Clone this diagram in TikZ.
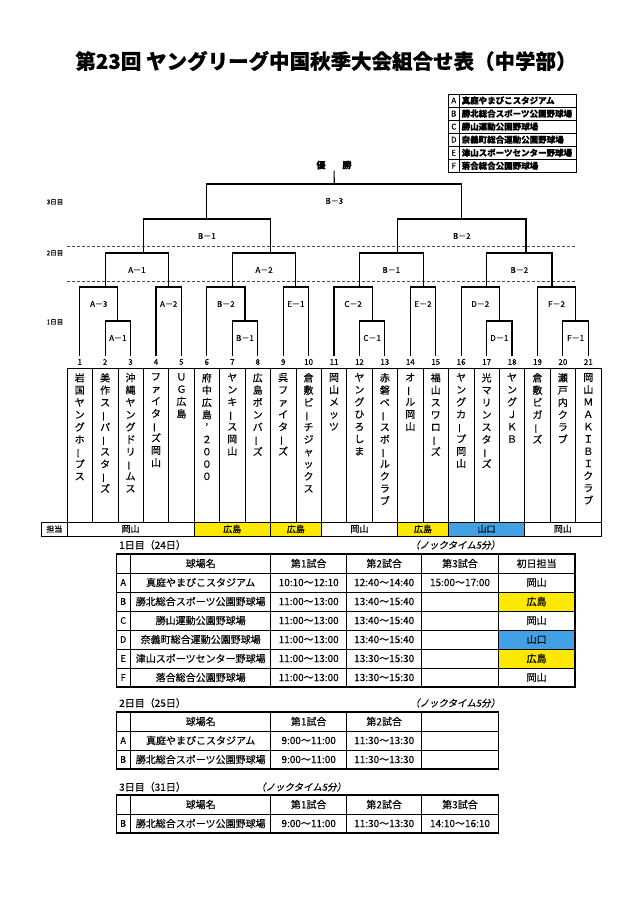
\documentclass[tikz,border=0pt]{standalone}
\usepackage{fontspec}
\usepackage{graphicx}
\setmainfont{Noto Sans CJK JP}[FakeBold=0.35]
\newfontfamily\slantjp{Noto Sans CJK JP}[FakeSlant=0.2, FakeBold=0.35]
\usetikzlibrary{calc}

\definecolor{hiroyel}{RGB}{252,232,0}
\definecolor{yamablue}{RGB}{66,160,228}

% team names stacked one character per line
\def\tateA#1{\ifx#1\relax\else\tateB{#1}\expandafter\tateA\fi}
\def\tateB#1{\hbox to 12pt{\hss\ifx#1ー\rotatebox[origin=c]{90}{ー}\else#1\fi\hss}}
\newcommand\tate[1]{\vtop{\baselineskip=12.3pt\lineskiplimit=-20pt\expandafter\tateA#1\relax}}

\begin{document}
\begin{tikzpicture}[x=1pt,y=-1pt,
    brk/.style={line width=1.1pt},
    dayline/.style={line width=0.8pt, black!70, dash pattern=on 3pt off 2pt},
    tline/.style={line width=0.7pt},
    touter/.style={line width=1.1pt},
    lab/.style={inner sep=0.5pt, font=\fontsize{8}{9}\selectfont},
    num/.style={inner sep=0pt, font=\fontsize{8}{9}\selectfont},
    team/.style={anchor=north, inner sep=0pt, font=\fontsize{10}{12.3}\selectfont},
    tcell/.style={inner sep=0pt, font=\fontsize{10}{11}\selectfont},
    ttl/.style={inner sep=0pt, anchor=west, font=\fontsize{10}{11}\selectfont},
    knock/.style={inner sep=0pt, anchor=west, font=\fontsize{9.5}{11}\slantjp}]
  \useasboundingbox (0,0) rectangle (640,903);

  \node[font=\fontsize{20.5}{23}\selectfont\bfseries] (title) at (326,61)
    {第23回 ヤングリーグ中国秋季大会組合せ表（中学部）};

  % venues
  \draw[tline] (448.3,94) rectangle (576,172.3);
  \draw[tline] (459.3,94) -- (459.3,172.3);
  \foreach \lt/\v [count=\k] in {A/真庭やまびこスタジアム, B/勝北総合スポーツ公園野球場,
      C/勝山運動公園野球場, D/奈義町総合運動公園野球場,
      E/津山スポーツセンター野球場, F/落合総合公園野球場}
  {
    \pgfmathsetmacro\yy{94+(\k-0.5)*13.05}
    \node[inner sep=0pt, font=\fontsize{8}{9}\selectfont] (key\lt) at (453.8,\yy) {\lt};
    \node[inner sep=0pt, anchor=west, font=\fontsize{8.5}{9}\selectfont\bfseries] (venue\lt) at (461.5,\yy) {\v};
    \ifnum\k<6 \draw[tline] (448.3,{94+\k*13.05}) -- (576,{94+\k*13.05}); \fi
  }

  % bracket
  \node[inner sep=1pt, font=\fontsize{9}{10}\selectfont\bfseries] (win) at (334,165) {優\hspace{17pt}勝};
  \node[lab, font=\fontsize{6.5}{7}\selectfont] (day3) at (55,202) {3日目};
  \node[lab, font=\fontsize{6.5}{7}\selectfont] (day2) at (55,253) {2日目};
  \node[lab, font=\fontsize{6.5}{7}\selectfont] (day1) at (55,322) {1日目};
  \draw[dayline] (67,246) -- (575,246);
  \draw[dayline] (67,281) -- (575,281);

  \foreach \i in {1,...,21}
    \coordinate (t\i) at ({67+(\i-0.5)*25.43},356);
  \coordinate (jA1) at (117.9,321);
  \coordinate (jB1) at (245.0,321);
  \coordinate (jC1) at (372.2,321);
  \coordinate (jD1) at (499.4,321);
  \coordinate (jF1) at (575.7,321);
  \coordinate (jA3) at (105.1,287);
  \coordinate (jA2) at (168.7,287);
  \coordinate (jB2) at (232.3,287);
  \coordinate (jE1) at (295.9,287);
  \coordinate (jC2) at (359.5,287);
  \coordinate (jE2) at (423.1,287);
  \coordinate (jD2) at (486.7,287);
  \coordinate (jF2) at (552.0,287);
  \coordinate (qA1) at (143.3,253);
  \coordinate (qA2) at (270.4,253);
  \coordinate (qB1) at (397.6,253);
  \coordinate (qB2) at (526.0,253);
  \coordinate (sB1) at (206.9,219);
  \coordinate (sB2) at (461.8,219);
  \coordinate (fin) at (334.3,184);

  \foreach \l/\j/\r/\txt in {t2/jA1/t3/A－1, t7/jB1/t8/B－1, t12/jC1/t13/C－1,
      t17/jD1/t18/D－1, t20/jF1/t21/F－1,
      t1/jA3/jA1/A－3, t4/jA2/t5/A－2, t6/jB2/jB1/B－2, t9/jE1/t10/E－1,
      t11/jC2/jC1/C－2, t14/jE2/t15/E－2, t16/jD2/jD1/D－2, t19/jF2/jF1/F－2,
      jA3/qA1/jA2/A－1, jB2/qA2/jE1/A－2, jC2/qB1/jE2/B－1, jD2/qB2/jF2/B－2,
      qA1/sB1/qA2/B－1, qB1/sB2/qB2/B－2, sB1/fin/sB2/B－3}
  {
    \draw[brk] (\l) |- (\j) -| (\r);
    \node[lab] (lab-\j) at ($(\l |- \j)!0.5!(\r |- \j) + (0,17)$) {\txt};
  }
  \draw[brk] (fin) -- (win);

  % teams
  \draw[tline] (67,368) rectangle (601,522);
  \foreach \k in {1,...,20}
    \draw[tline] ({67+\k*25.43},368) -- ({67+\k*25.43},522);
  \foreach \nm [count=\i] in {岩国ヤングホープス, 美作スーパースターズ, 沖縄ヤングドリームス,
      ファイターズ岡山, ＵＧ広島, 府中広島’２０００, ヤンキース岡山, 広島ボンバーズ,
      呉ファイターズ, 倉敷ビーチジャックス, 岡山メッツ, ヤングひろしま,
      赤磐ベースボールクラブ, オール岡山, 福山スワローズ, ヤングカープ岡山,
      光マリンスターズ, ヤングＪＫＢ, 倉敷ビガーズ, 瀬戸内クラブ, 岡山ＭＡＫＩＢＩクラブ}
  {
    \node[team] (team\i) at ({67+(\i-0.5)*25.43},373) {\tate{\nm}};
    \node[num] (num\i) at ({67+(\i-0.5)*25.43},362) {\i};
  }

  % duty row
  \draw[tline] (41.7,522) rectangle (67,536);
  \node[inner sep=0pt, font=\fontsize{8}{9}\selectfont] (duty) at (54.3,529) {担当};
  \foreach \a/\b/\col/\txt [count=\k] in {0/5/white/岡山, 5/8/hiroyel/広島, 8/10/hiroyel/広島,
      10/13/white/岡山, 13/15/hiroyel/広島, 15/18/yamablue/山口, 18/21/white/岡山}
  {
    \draw[tline, fill=\col] ({67+\a*25.43},522) rectangle ({67+\b*25.43},536);
    \node[inner sep=0pt, font=\fontsize{9}{10}\selectfont] (duty\k) at ({67+(\a+\b)/2*25.43},529) {\txt};
  }

  % day 1 table
  \node[ttl] (d1ttl) at (119,545) {1日目（24日）};
  \node[knock] (d1knock) at (410,545) {（ノックタイム5分）};
  \fill[hiroyel] (498.3,592) rectangle (575,611);
  \fill[yamablue] (498.3,630) rectangle (575,649);
  \fill[hiroyel] (498.3,649) rectangle (575,668);
  \draw[touter] (116.7,554) rectangle (575,687);
  \foreach \y in {573,592,...,668}
    \draw[tline] (116.7,\y) -- (575,\y);
  \foreach \x in {130.7,270.7,346.7,421.7,498.3}
    \draw[tline] (\x,554) -- (\x,687);
  \foreach \h/\x [count=\k] in {球場名/200.7, 第1試合/308.7, 第2試合/384.2, 第3試合/460, 初日担当/536.6}
    \node[tcell] (h1-\k) at (\x,563.5) {\h};
  \foreach \lt/\v/\p/\q/\s [count=\k] in {A/真庭やまびこスタジアム/10:10～12:10/12:40～14:40/岡山,
      B/勝北総合スポーツ公園野球場/11:00～13:00/13:40～15:40/広島,
      C/勝山運動公園野球場/11:00～13:00/13:40～15:40/岡山,
      D/奈義町総合運動公園野球場/11:00～13:00/13:40～15:40/山口,
      E/津山スポーツセンター野球場/11:00～13:00/13:30～15:30/広島,
      F/落合総合公園野球場/11:00～13:00/13:30～15:30/岡山}
  {
    \pgfmathsetmacro\yy{563.5+19*\k}
    \node[tcell, font=\fontsize{9}{10}\selectfont] (v1-\lt) at (123.2,\yy) {\lt};
    \node[tcell] (n1-\lt) at (200.7,\yy) {\v};
    \node[tcell] (a1-\lt) at (308.7,\yy) {\p};
    \node[tcell] (b1-\lt) at (384.2,\yy) {\q};
    \node[tcell] (s1-\lt) at (536.6,\yy) {\s};
  }
  \node[tcell] (c1-A) at (460,582.5) {15:00～17:00};

  % day 2 table
  \node[ttl] (d2ttl) at (119,703) {2日目（25日）};
  \node[knock] (d2knock) at (410,703) {（ノックタイム5分）};
  \draw[touter] (116.7,712) rectangle (498.3,769);
  \foreach \y in {731,750}
    \draw[tline] (116.7,\y) -- (498.3,\y);
  \foreach \x in {130.7,270.7,346.7,421.7}
    \draw[tline] (\x,712) -- (\x,769);
  \foreach \h/\x [count=\k] in {球場名/200.7, 第1試合/308.7, 第2試合/384.2}
    \node[tcell] (h2-\k) at (\x,721.5) {\h};
  \foreach \lt/\v [count=\k] in {A/真庭やまびこスタジアム, B/勝北総合スポーツ公園野球場}
  {
    \pgfmathsetmacro\yy{721.5+19*\k}
    \node[tcell, font=\fontsize{9}{10}\selectfont] (v2-\lt) at (123.2,\yy) {\lt};
    \node[tcell] (n2-\lt) at (200.7,\yy) {\v};
    \node[tcell] (a2-\lt) at (308.7,\yy) {9:00～11:00};
    \node[tcell] (b2-\lt) at (384.2,\yy) {11:30～13:30};
  }

  % day 3 table
  \node[ttl] (d3ttl) at (119,787) {3日目（31日）};
  \node[knock] (d3knock) at (256,787) {（ノックタイム5分）};
  \draw[touter] (116.7,795) rectangle (498.3,833);
  \draw[tline] (116.7,814) -- (498.3,814);
  \foreach \x in {130.7,270.7,346.7,421.7}
    \draw[tline] (\x,795) -- (\x,833);
  \foreach \h/\x [count=\k] in {球場名/200.7, 第1試合/308.7, 第2試合/384.2, 第3試合/460}
    \node[tcell] (h3-\k) at (\x,804.5) {\h};
  \node[tcell, font=\fontsize{9}{10}\selectfont] (v3-B) at (123.2,823.5) {B};
  \node[tcell] (n3-B) at (200.7,823.5) {勝北総合スポーツ公園野球場};
  \node[tcell] (a3-B) at (308.7,823.5) {9:00～11:00};
  \node[tcell] (b3-B) at (384.2,823.5) {11:30～13:30};
  \node[tcell] (c3-B) at (460,823.5) {14:10～16:10};
\end{tikzpicture}
\end{document}
